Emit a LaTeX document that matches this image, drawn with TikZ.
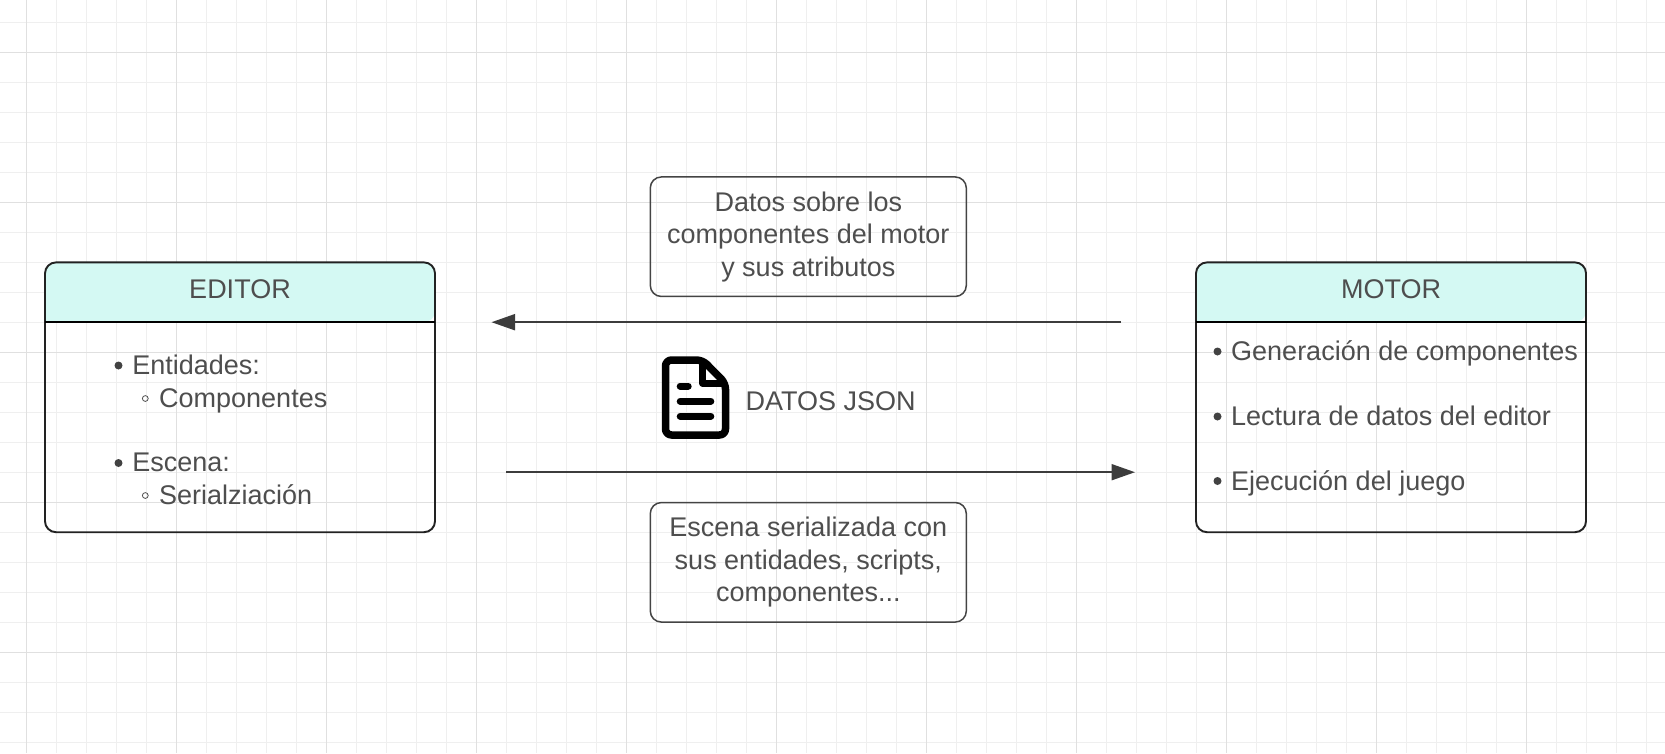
\documentclass[tikz,border=0pt]{standalone}
\usepackage{fontspec}
\setmainfont{Liberation Sans}
\usetikzlibrary{arrows.meta}
\definecolor{gridminor}{HTML}{EFEFEF}
\definecolor{gridmajor}{HTML}{E0E0E0}
\definecolor{boxline}{HTML}{222222}
\definecolor{noteline}{HTML}{444444}
\definecolor{headfill}{HTML}{D4F9F3}
\definecolor{txt}{HTML}{4E4E4E}
\definecolor{arrowc}{HTML}{3C3C3C}
\tikzset{
  shell/.style={draw=boxline,line width=1.9pt,rounded corners=11pt},
  head/.style={fill=headfill,rounded corners=11pt},
  note/.style={draw=noteline,line width=1.5pt,rounded corners=11pt,minimum width=316pt,minimum height=119.5pt,inner sep=0pt,align=center,text=txt,font=\fontsize{27}{32.5}\selectfont},
  label/.style={text=txt,inner sep=0pt,font=\fontsize{27}{32}\selectfont},
  listitem/.style={label,anchor=base west},
  bul/.style={circle,fill=txt!85!black,inner sep=0pt,minimum size=8pt},
  hollow/.style={circle,draw=txt,line width=.8pt,inner sep=0pt,minimum size=5.8pt},
  flow/.style={draw=arrowc,line width=1.9pt,-{Triangle[length=23.5pt,width=16pt]}},
}
\begin{document}
\begin{tikzpicture}[x=1pt,y=-1pt]
\useasboundingbox (0,0) rectangle (1665,753);
\fill[white] (0,0) rectangle (1665,753);
% grid
\foreach \i in {0,...,55}{
  \pgfmathsetmacro\gx{26.5+30*\i}
  \draw[gridminor,line width=1pt] (\gx,0) -- (\gx,753);
}
\foreach \i in {0,...,24}{
  \pgfmathsetmacro\gy{22.5+30*\i}
  \draw[gridminor,line width=1pt] (0,\gy) -- (1665,\gy);
}
\foreach \i in {0,...,10}{
  \pgfmathsetmacro\gx{26.5+150*\i}
  \draw[gridmajor,line width=1pt] (\gx,0) -- (\gx,753);
}
\foreach \i in {0,...,4}{
  \pgfmathsetmacro\gy{52.5+150*\i}
  \draw[gridmajor,line width=1pt] (0,\gy) -- (1665,\gy);
}
% EDITOR
\fill[head] (45,322.2) -- (45,262.4) -- (435,262.4) -- (435,322.2) [sharp corners] -- cycle;
\draw[shell] (45,262.4) rectangle (435,532.2);
\draw[black,line width=1.9pt] (45,322.2) -- (435,322.2);
\node[label] (edT) at (240,289) {EDITOR};
\node[listitem] (e1) at (132.2,374) {Entidades:};
\node[listitem] (e2) at (159,407) {Componentes};
\node[listitem] (e3) at (132.2,471.5) {Escena:};
\node[listitem] (e4) at (159,504) {Serialziación};
\node[bul] (b1) at (118.5,365.5) {};
\node[hollow] (h1) at (145.3,398.5) {};
\node[bul] (b2) at (118.5,463) {};
\node[hollow] (h2) at (145.3,495.5) {};
% MOTOR
\fill[head] (1196,322.2) -- (1196,262.4) -- (1586,262.4) -- (1586,322.2) [sharp corners] -- cycle;
\draw[shell] (1196,262.4) rectangle (1586,532.2);
\draw[black,line width=1.9pt] (1196,322.2) -- (1586,322.2);
\node[label] (moT) at (1391,289) {MOTOR};
\node[listitem] (m1) at (1231,360.5) {Generación de componentes};
\node[listitem] (m2) at (1231,425) {Lectura de datos del editor};
\node[listitem] (m3) at (1231,490) {Ejecución del juego};
\node[bul] (b3) at (1217.5,351.5) {};
\node[bul] (b4) at (1217.5,416.5) {};
\node[bul] (b5) at (1217.5,481) {};
% notes
\node[note] (top) at (808.3,236.7) {Datos sobre los\\componentes del motor\\y sus atributos};
\node[note] (bot) at (808.3,562.3) {Escena serializada con\\sus entidades, scripts,\\componentes...};
% connectors
\coordinate (aS) at (1121,322.2);
\coordinate (aE) at (491.5,322.2);
\coordinate (bS) at (506,472.2);
\coordinate (bE) at (1135,472.2);
\draw[flow] (aS) -- (aE);
\draw[flow] (bS) -- (bE);
% json icon
\draw[black,line width=7.5pt,line join=round,rounded corners=6pt] (665.5,360) -- (702.5,360) -- (725.5,383.2) -- (725.5,435) -- (665.5,435) -- cycle;
\draw[black,line width=7pt,line join=round] (702.7,361) -- (702.7,383.2) -- (725.5,383.2);
\draw[black,line width=7pt,line cap=round] (680.2,386) -- (688.2,386) (680.2,401.2) -- (710.8,401.2) (680.2,416.2) -- (710.8,416.2);
\node[label,anchor=west] (js) at (745.5,401.3) {DATOS JSON};
\end{tikzpicture}
\end{document}
